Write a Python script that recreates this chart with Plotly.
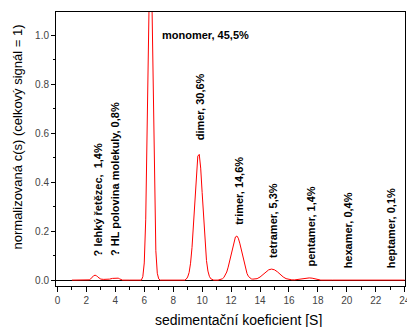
import plotly.graph_objects as go

# sedimentation coefficient [S] and normalized c(s)
s_vals = [1.0, 2.0, 2.2, 2.3, 2.4, 2.5, 2.6, 2.7, 2.8, 2.9, 3.0, 3.2, 3.4, 3.6, 3.8, 4.0, 4.1, 4.2, 4.3, 4.4, 4.5,
          5.0, 5.8, 5.9, 6.0, 6.1, 6.2, 6.3, 6.4, 6.5, 6.6, 6.7, 6.8, 6.9, 7.0, 7.1,
          8.0, 8.8, 8.9, 9.0, 9.1, 9.2, 9.3, 9.4, 9.5, 9.6, 9.7, 9.8, 9.9, 10.0, 10.1, 10.2, 10.3, 10.4, 10.5, 10.6,
          10.7, 10.8, 11.1, 11.2, 11.3, 11.4, 11.5, 11.6, 11.7, 11.8, 11.9, 12.0, 12.1, 12.2, 12.3, 12.4, 12.5,
          12.6, 12.7, 12.8, 12.9, 13.0, 13.1, 13.2, 13.3, 13.4, 13.5, 13.6, 13.8, 14.0, 14.2, 14.4, 14.6, 14.8,
          15.0, 15.2, 15.4, 15.6, 15.8, 16.0, 16.2, 16.4, 16.6, 16.8, 17.0, 17.2, 17.4, 17.6, 17.8, 18.0, 18.2,
          19.0, 20.0, 21.0, 22.0, 23.0, 24.0]
c_vals = [0.0, 0.0, 0.001, 0.005, 0.012, 0.018, 0.020, 0.018, 0.012, 0.007, 0.004, 0.003, 0.003, 0.004, 0.007, 0.009, 0.009, 0.008, 0.005, 0.002, 0.0,
          0.0, 0.0, 0.014, 0.07, 0.246, 0.61, 1.09, 1.38, 1.25, 0.80, 0.37, 0.12, 0.028, 0.005, 0.0,
          0.0, 0.0, 0.004, 0.0127, 0.031, 0.069, 0.133, 0.225, 0.336, 0.44, 0.506, 0.513, 0.457, 0.358, 0.246, 0.149, 0.080, 0.037, 0.0155, 0.0055,
          0.002, 0.0, 0.0, 0.001, 0.0025, 0.0054, 0.0106, 0.0195, 0.033, 0.053, 0.078, 0.106, 0.135, 0.160, 0.176, 0.180, 0.171,
          0.151, 0.124, 0.095, 0.067, 0.044, 0.027, 0.015, 0.008, 0.005, 0.004, 0.004, 0.006, 0.0125, 0.022, 0.034, 0.042, 0.045,
          0.042, 0.034, 0.023, 0.013, 0.006, 0.003, 0.001, 0.001, 0.003, 0.006, 0.008, 0.009, 0.009, 0.008, 0.005, 0.002, 0.0,
          0.0, 0.0, 0.0, 0.0, 0.0, 0.0]

peak_labels = ["? lehký řetězec,  1,4%", "? HL polovina molekuly, 0,8%", "monomer, 45,5%", "dimer, 30,6%",
               "trimer, 14,6%", "tetramer, 5,3%", "pentamer, 1,4%", "hexamer, 0,4%", "heptamer, 0,1%"]

x_title = "sedimentační koeficient [S]"
y_title = "normalizovaná c(s) (celkový signál = 1)"

# label placement (x, y, angle, xanchor, yanchor)
label_pos = [(2.79, 0.09, -90, "center", "bottom"), (3.97, 0.09, -90, "center", "bottom"),
             (7.07, 1.0, 0, "left", "middle"), (9.83, 0.563, -90, "center", "bottom"),
             (12.59, 0.216, -90, "center", "bottom"), (14.86, 0.082, -90, "center", "bottom"),
             (17.55, 0.049, -90, "center", "bottom"), (20.1, 0.041, -90, "center", "bottom"),
             (23.07, 0.041, -90, "center", "bottom")]

FONT = "Arial, Liberation Sans, sans-serif"
xr = [-0.1, 24.02]
yr = [-0.024, 1.094]

fig = go.Figure()
fig.add_trace(go.Scatter(x=s_vals, y=c_vals, mode="lines", line=dict(color="#ff0000", width=1),
                         hoverinfo="skip", showlegend=False))

annotations = []
for txt, (x, y, ang, xa, ya) in zip(peak_labels, label_pos):
    annotations.append(dict(x=x, y=y, xref="x", yref="y", text="<b>%s</b>" % txt, textangle=ang,
                            xanchor=xa, yanchor=ya, showarrow=False,
                            font=dict(family=FONT, size=11, color="black")))
annotations.append(dict(x=0.524, y=0, xref="paper", yref="paper", yshift=-34, text=x_title,
                        showarrow=False, xanchor="center", yanchor="middle",
                        font=dict(family=FONT, size=14, color="black")))
annotations.append(dict(x=0, y=0.542, xref="paper", yref="paper", xshift=-39, text=y_title,
                        textangle=-90, showarrow=False, xanchor="center", yanchor="middle",
                        font=dict(family=FONT, size=13, color="black")))

fig.update_layout(
    width=407, height=327,
    margin=dict(l=56, r=2, t=12, b=41, pad=0, autoexpand=False),
    paper_bgcolor="white", plot_bgcolor="white",
    font=dict(family=FONT, size=10, color="#444"),
    annotations=annotations,
    xaxis=dict(range=xr, showgrid=False, zeroline=False, showline=True, linecolor="black", linewidth=1,
               mirror=True, ticks="outside", ticklen=5, tickcolor="black", tickwidth=1,
               tickvals=list(range(0, 25, 2)), tickfont=dict(size=10, color="#444"),
               ticklabeloverflow="allow", automargin=False,
               minor=dict(dtick=1, tick0=0, ticks="outside", ticklen=3, tickcolor="black", showgrid=False)),
    yaxis=dict(range=yr, showgrid=False, zeroline=True, zerolinecolor="black", zerolinewidth=1,
               showline=True, linecolor="black", linewidth=1, mirror=True, automargin=False,
               ticks="outside", ticklen=4, tickcolor="black", tickwidth=1,
               dtick=0.2, tick0=0, tickformat=".1f", tickfont=dict(size=10, color="#444"),
               minor=dict(dtick=0.1, tick0=0, ticks="outside", ticklen=2, tickcolor="black", showgrid=False)),
    xaxis2=dict(range=xr, overlaying="x", side="top", anchor="y", showgrid=False, zeroline=False,
                showline=False, showticklabels=False, ticks="inside", ticklen=5, tickcolor="black",
                dtick=2, tick0=0, automargin=False,
                minor=dict(dtick=1, tick0=0, ticks="inside", ticklen=3, tickcolor="black", showgrid=False)),
    yaxis2=dict(range=yr, overlaying="y", side="right", anchor="x", showgrid=False, zeroline=False,
                showline=False, showticklabels=False, ticks="inside", ticklen=5, tickcolor="black",
                dtick=0.2, tick0=0, automargin=False,
                minor=dict(dtick=0.1, tick0=0, ticks="inside", ticklen=3, tickcolor="black", showgrid=False)),
)

fig.write_html("out.html", config={"displayModeBar": False},
               post_script="document.body.style.margin='0';document.body.style.overflow='hidden';")
